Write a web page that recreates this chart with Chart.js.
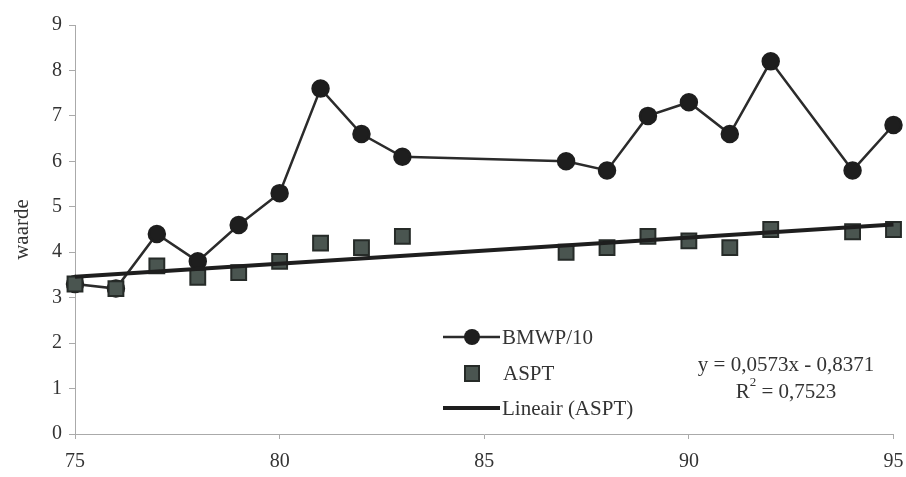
<!DOCTYPE html>
<html><head><meta charset="utf-8">
<script src="https://cdn.jsdelivr.net/npm/chart.js@4"></script>
<style>html,body{margin:0;padding:0;background:#fff}#wrap{position:relative;width:906px;height:477px}</style>
</head><body><div id="wrap"><canvas id="c" width="906" height="477"></canvas></div>
<script>
const years = [75,76,77,78,79,80,81,82,83,87,88,89,90,91,92,94,95];
const bmwp10 = [3.3,3.2,4.4,3.8,4.6,5.3,7.6,6.6,6.1,6.0,5.8,7.0,7.3,6.6,8.2,5.8,6.8];
const aspt = [3.3,3.2,3.7,3.45,3.55,3.8,4.2,4.1,4.35,4.0,4.1,4.35,4.25,4.1,4.5,4.45,4.5];
const trendX = [75,95];
const trendY = [3.46,4.61];
const xTicks = [75,80,85,90,95];
const yTicks = [0,1,2,3,4,5,6,7,8,9];
const seriesNames = ['BMWP/10','ASPT','Lineair (ASPT)'];
const eqLines = ['y = 0,0573x - 0,8371','R','2',' = 0,7523'];

const FONT = '"Liberation Serif", "DejaVu Serif", serif';
const TXT = '#333';

const legendPlugin = {
  id:'customLegend',
  afterDraw(chart){
    const ctx = chart.ctx;
    ctx.save();
    ctx.font = '21px ' + FONT;
    ctx.fillStyle = TXT;
    ctx.textBaseline = 'middle';
    ctx.textAlign = 'left';
    // BMWP
    ctx.strokeStyle = '#2b2b2b'; ctx.lineWidth = 2.5;
    ctx.beginPath(); ctx.moveTo(443,337); ctx.lineTo(500,337); ctx.stroke();
    ctx.fillStyle = '#1e1e1e';
    ctx.beginPath(); ctx.arc(472,337,8,0,Math.PI*2); ctx.fill();
    ctx.fillStyle = TXT;
    ctx.fillText(seriesNames[0],502,338);
    // ASPT
    ctx.fillStyle = '#4a5550'; ctx.strokeStyle='#262b28'; ctx.lineWidth=2;
    ctx.fillRect(465,366,14,15); ctx.strokeRect(465,366,14,15);
    ctx.fillStyle = TXT;
    ctx.fillText(seriesNames[1],503,374);
    // Lineair
    ctx.strokeStyle = '#1e1e1e'; ctx.lineWidth = 4;
    ctx.beginPath(); ctx.moveTo(443,408); ctx.lineTo(500,408); ctx.stroke();
    ctx.fillText(seriesNames[2],502,409);
    // equation
    ctx.textAlign = 'center';
    ctx.fillText(eqLines[0],786,365);
    ctx.textAlign = 'left';
    const w1 = ctx.measureText(eqLines[1]).width;
    ctx.font = '13px ' + FONT;
    const w2 = ctx.measureText(eqLines[2]).width;
    ctx.font = '21px ' + FONT;
    const w3 = ctx.measureText(eqLines[3]).width;
    let sx = 786 - (w1+w2+w3)/2;
    ctx.fillText(eqLines[1],sx,392);
    ctx.font = '13px ' + FONT;
    ctx.fillText(eqLines[2],sx+w1,383);
    ctx.font = '21px ' + FONT;
    ctx.fillText(eqLines[3],sx+w1+w2,392);
    ctx.restore();
  }
};

new Chart(document.getElementById('c'),{
  type:'scatter',
  data:{datasets:[
    {label:seriesNames[2],data:trendX.map((x,i)=>({x,y:trendY[i]})),showLine:true,borderColor:'#1e1e1e',borderWidth:4,pointRadius:0,order:1,clip:false},
    {label:seriesNames[1],data:years.map((x,i)=>({x,y:aspt[i]})),showLine:false,pointStyle:'rect',pointRadius:10.5,backgroundColor:'#4a5550',borderColor:'#262b28',borderWidth:2,order:2,clip:false},
    {label:seriesNames[0],data:years.map((x,i)=>({x,y:bmwp10[i]})),showLine:true,borderColor:'#2b2b2b',borderWidth:2.5,pointStyle:'circle',pointRadius:8,backgroundColor:'#1e1e1e',pointBorderColor:'#1e1e1e',order:3,clip:false}
  ]},
  options:{
    responsive:false,animation:false,
    layout:{padding:{top:25,right:9,left:0,bottom:0}},
    plugins:{legend:{display:false},tooltip:{enabled:false}},
    scales:{
      x:{type:'linear',min:75,max:95,
        afterBuildTicks:s=>{s.ticks=xTicks.map(v=>({value:v}));},
        afterFit:s=>{s.height=43;s.paddingRight=0;s.paddingLeft=0;},
        grid:{drawOnChartArea:false,drawTicks:true,tickLength:5,color:'#aaa'},
        border:{color:'#aaa',width:1},
        ticks:{font:{family:FONT,size:20},color:TXT,padding:11}},
      y:{min:0,max:9,
        afterBuildTicks:s=>{s.ticks=yTicks.map(v=>({value:v}));},
        afterFit:s=>{s.width=75;s.paddingTop=0;s.paddingBottom=0;},
        grid:{drawOnChartArea:false,drawTicks:true,tickLength:6,color:'#aaa'},
        border:{color:'#aaa',width:1},
        title:{display:true,text:'waarde',font:{family:FONT,size:21},color:TXT,padding:{top:10,bottom:0}},
        ticks:{font:{family:FONT,size:20},color:TXT,padding:7}}
    }
  },
  plugins:[legendPlugin]
});
</script></body></html>
